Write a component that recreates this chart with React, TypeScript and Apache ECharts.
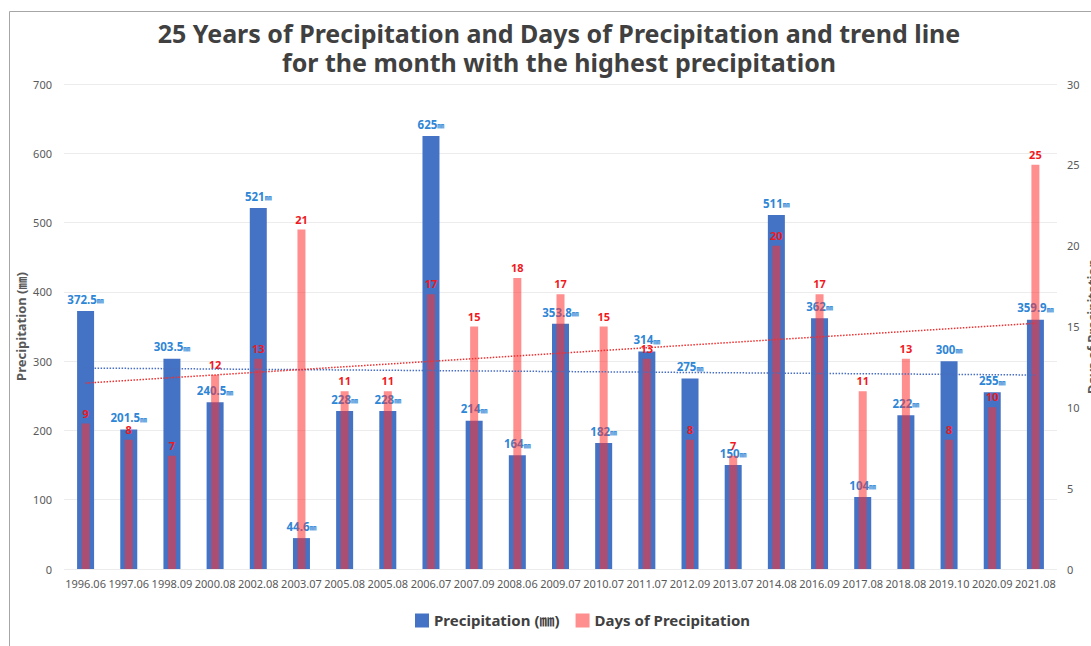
import React, { useEffect, useRef } from "react";
import * as echarts from "echarts";

const categories = [
  "1996.06", "1997.06", "1998.09", "2000.08", "2002.08", "2003.07", "2005.08", "2005.08",
  "2006.07", "2007.09", "2008.06", "2009.07", "2010.07", "2011.07", "2012.09", "2013.07",
  "2014.08", "2016.09", "2017.08", "2018.08", "2019.10", "2020.09", "2021.08",
];
const precipitation = [
  372.5, 201.5, 303.5, 240.5, 521, 44.6, 228, 228, 625, 214, 164, 353.8, 182, 314, 275, 150,
  511, 362, 104, 222, 300, 255, 359.9,
];
const rainyDays = [9, 8, 7, 12, 13, 21, 11, 11, 17, 15, 18, 17, 15, 13, 8, 7, 20, 17, 11, 13, 8, 10, 25];
// trend line end values (first and last category)
const precipTrend = [290, 280];
const daysTrend = [11.5, 15.2];

const FONT = "'Noto Sans', 'Noto Sans CJK KR', sans-serif";

export default function App() {
  const ref = useRef<HTMLDivElement>(null);
  useEffect(() => {
    if (!ref.current) return;
    const chart = echarts.init(ref.current, null, { renderer: "svg" });
    const last = categories.length - 1;
    chart.setOption({
      animation: false,
      textStyle: { fontFamily: FONT },
      graphic: [
        {
          type: "rect",
          left: 7,
          top: 9,
          silent: true,
          shape: { width: 1200, height: 800 },
          style: { fill: "none", stroke: "#a6a6a6", lineWidth: 1 },
        },
      ],
      title: {
        text: "25 Years of Precipitation and Days of Precipitation and trend line\nfor the month with the highest precipitation",
        left: 554,
        textAlign: "center",
        top: 13,
        textStyle: { fontSize: 25, fontWeight: "bold", color: "#404040", lineHeight: 29, fontFamily: FONT },
      },
      legend: {
        bottom: 13,
        left: 410,
        itemWidth: 14,
        itemHeight: 14,
        itemGap: 16,
        data: [
          { name: "Precipitation (㎜)", icon: "rect" },
          { name: "Days of Precipitation", icon: "rect" },
        ],
        textStyle: { fontSize: 15, fontWeight: "bold", color: "#404040", fontFamily: FONT },
      },
      grid: { left: 64, right: 34, top: 84, bottom: 77, containLabel: false, outerBoundsMode: "none" },
      xAxis: [
        {
          type: "category",
          data: categories,
          axisLine: { show: false },
          axisTick: { show: false },
          axisLabel: { fontSize: 11, color: "#595959", margin: 9, interval: 0 },
        },
        {
          type: "category",
          data: categories,
          show: false,
        },
      ],
      yAxis: [
        {
          type: "value",
          min: 0,
          max: 700,
          interval: 100,
          name: "Precipitation (㎜)",
          nameLocation: "middle",
          nameGap: 37,
          nameRotate: 90,
          nameMoveOverlap: false,
          nameTextStyle: { fontSize: 13, fontWeight: "bold", color: "#595959" },
          axisLine: { show: false },
          axisTick: { show: false },
          axisLabel: { fontSize: 11, color: "#595959", margin: 12 },
          splitLine: { lineStyle: { color: "#ececec", width: 1 } },
        },
        {
          type: "value",
          min: 0,
          max: 30,
          interval: 5,
          position: "right",
          name: "Days of Precipitation",
          nameLocation: "middle",
          nameGap: 28,
          nameRotate: 90,
          nameMoveOverlap: false,
          nameTextStyle: { fontSize: 13, fontWeight: "bold", color: "#595959" },
          axisLine: { show: false },
          axisTick: { show: false },
          axisLabel: { fontSize: 11, color: "#595959", margin: 10 },
          splitLine: { show: false },
        },
      ],
      series: [
        {
          name: "Precipitation (㎜)",
          type: "bar",
          xAxisIndex: 0,
          yAxisIndex: 0,
          barWidth: 17,
          data: precipitation,
          itemStyle: { color: "#4472C4" },
          label: {
            show: true,
            position: "top",
            distance: 6,
            formatter: (p: any) => `{v|${p.value}}{u|㎜}`,
            rich: {
              v: { fontSize: 11.5, fontWeight: "bold", color: "#2E86D6", fontFamily: FONT },
              u: { fontSize: 7, fontWeight: "bold", color: "#2E86D6", fontFamily: FONT, padding: [3, 0, 0, 0] },
            },
          },
          z: 2,
        },
        {
          name: "Days of Precipitation",
          type: "bar",
          xAxisIndex: 1,
          yAxisIndex: 1,
          barWidth: 8,
          data: rainyDays,
          itemStyle: { color: "rgba(255,50,50,0.55)" },
          label: {
            show: true,
            position: "top",
            distance: 5,
            fontSize: 11,
            fontWeight: "bold",
            color: "#F0191E",
          },
          z: 3,
        },
        {
          name: "precipTrend",
          type: "line",
          xAxisIndex: 0,
          yAxisIndex: 0,
          data: [[0, precipTrend[0]], [last, precipTrend[1]]],
          symbol: "none",
          silent: true,
          lineStyle: { color: "#4A6FC0", width: 1.5, type: "dotted" },
          z: 4,
        },
        {
          name: "daysTrend",
          type: "line",
          xAxisIndex: 1,
          yAxisIndex: 1,
          data: [[0, daysTrend[0]], [last, daysTrend[1]]],
          symbol: "none",
          silent: true,
          lineStyle: { color: "#F03030", width: 1.5, type: "dotted" },
          z: 4,
        },
      ],
    });
    return () => chart.dispose();
  }, []);
  return (
    <div
      ref={ref}
      style={{ position: "fixed", left: 0, top: 0, width: 1091, height: 646, background: "#fff" }}
    />
  );
}
